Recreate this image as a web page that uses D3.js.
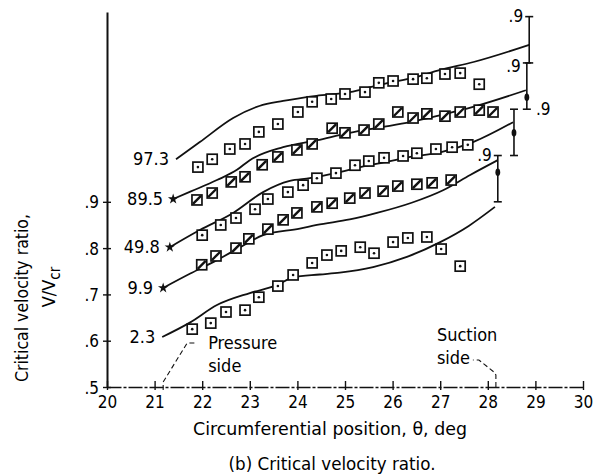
<!DOCTYPE html>
<html>
<head>
<meta charset="utf-8">
<script src="https://cdn.jsdelivr.net/npm/d3@7"></script>
<style>
	body { margin: 0; background: #fff; }
	svg { display: block; font-family: 'DejaVu Sans Condensed', 'Liberation Sans Narrow', sans-serif; }
	text { fill: #000; }
</style>
</head>
<body>
<svg id="chart"></svg>
<script>
// tick labels
const xTicks = [20, 21, 22, 23, 24, 25, 26, 27, 28, 29, 30];
const yTicks = [0.5, 0.6, 0.7, 0.8, 0.9];

// spanwise stations, each curve shifted up by its offset
const seriesLabels = ['2.3', '9.9', '49.8', '89.5', '97.3'];
const seriesOffsets = [0, 0.1, 0.2, 0.3, 0.4];
const markerTypes = ['dot', 'slash', 'dot', 'slash', 'dot'];
const startMarked = [false, true, true, true, false];

// [theta, V/Vcr] - faired curves
const curve23 = [[21.16, 0.608], [21.74, 0.639], [22.31, 0.677], [23.0, 0.703], [23.57, 0.72], [23.91, 0.737], [24.47, 0.743], [24.89, 0.747], [25.59, 0.759], [26.3, 0.781], [27.0, 0.813], [27.6, 0.848], [28.15, 0.889]];
const curve99 = [[21.18, 0.614], [21.75, 0.645], [22.31, 0.674], [22.8, 0.702], [23.28, 0.728], [24.05, 0.742], [24.41, 0.75], [25.1, 0.762], [25.67, 0.776], [26.4, 0.798], [27.06, 0.825], [27.63, 0.858], [28.21, 0.89]];
const curve498 = [[21.32, 0.602], [21.95, 0.639], [22.65, 0.676], [23.28, 0.721], [23.84, 0.745], [24.26, 0.751], [24.8, 0.762], [25.32, 0.775], [25.9, 0.787], [26.37, 0.797], [27.0, 0.807], [27.69, 0.829], [28.53, 0.872]];
const curve895 = [[21.39, 0.606], [21.75, 0.622], [22.31, 0.647], [22.73, 0.669], [23.0, 0.69], [23.7, 0.718], [24.41, 0.733], [25.1, 0.749], [25.7, 0.76], [26.37, 0.772], [27.0, 0.787], [27.69, 0.805], [28.8, 0.841]];
const curve973 = [[21.45, 0.592], [21.95, 0.629], [22.65, 0.681], [23.2, 0.707], [23.7, 0.718], [24.4, 0.729], [25.1, 0.737], [25.7, 0.752], [26.4, 0.767], [27.0, 0.785], [27.7, 0.802], [28.87, 0.839]];

// [theta, V/Vcr] - measured points
const points23 = [[21.79, 0.625], [22.18, 0.638], [22.5, 0.662], [22.9, 0.666], [23.19, 0.694], [23.59, 0.718], [23.91, 0.742], [24.31, 0.768], [24.62, 0.785], [24.92, 0.794], [25.32, 0.802], [25.61, 0.789], [26.01, 0.813], [26.32, 0.822], [26.72, 0.824], [27.02, 0.798], [27.42, 0.761]];
const points99 = [[21.99, 0.664], [22.29, 0.683], [22.71, 0.7], [22.98, 0.72], [23.38, 0.741], [23.7, 0.761], [23.99, 0.776], [24.41, 0.789], [24.73, 0.797], [25.1, 0.808], [25.42, 0.819], [25.8, 0.823], [26.11, 0.834], [26.51, 0.838], [26.83, 0.841], [27.23, 0.847]];
const points498 = [[22.0, 0.628], [22.39, 0.65], [22.71, 0.665], [23.11, 0.684], [23.38, 0.706], [23.8, 0.721], [24.12, 0.736], [24.41, 0.751], [24.81, 0.762], [25.21, 0.779], [25.5, 0.788], [25.82, 0.795], [26.22, 0.799], [26.51, 0.805], [26.91, 0.814], [27.25, 0.818], [27.58, 0.823]];
const points895 = [[21.89, 0.604], [22.21, 0.619], [22.61, 0.643], [22.9, 0.654], [23.26, 0.68], [23.59, 0.697], [23.99, 0.712], [24.31, 0.725], [24.73, 0.759], [25.0, 0.749], [25.4, 0.755], [25.71, 0.768], [26.11, 0.794], [26.43, 0.781], [26.72, 0.79], [27.1, 0.785], [27.42, 0.794], [27.82, 0.798], [28.11, 0.794]];
const points973 = [[21.91, 0.575], [22.21, 0.592], [22.58, 0.614], [22.9, 0.625], [23.19, 0.651], [23.59, 0.668], [24.01, 0.694], [24.31, 0.716], [24.71, 0.722], [25.0, 0.733], [25.42, 0.737], [25.71, 0.757], [26.01, 0.761], [26.43, 0.765], [26.72, 0.767], [27.1, 0.776], [27.42, 0.778], [27.82, 0.754]];

// local .8 - .9 scale bars at the right end of the shifted curves
const barSeries = [1, 2, 3, 4];
const barTheta = [28.21, 28.55, 28.82, 28.87];
const barRange = [0.8, 0.9];
const barDot = [0.864, 0.849, 0.826, null];

// blade surfaces
const sideTheta = [21.18, 28.17];
const sideLabels = [['Pressure', 'side'], ['Suction', 'side']];

const curves = [curve23, curve99, curve498, curve895, curve973];
const points = [points23, points99, points498, points895, points973];

const width = 599;
const height = 476;

const svg = d3.select('#chart').attr('width', width).attr('height', height);

const x = d3.scaleLinear().domain([20, 30]).range([107, 583]);
const y = d3.scaleLinear().domain([0.5, 1.31]).range([387, 12]);

// axes
const xAxis = d3.axisBottom(x).tickValues(xTicks).tickSizeOuter(0).tickFormat(d3.format('d'));
const xAxisG = svg.append('g')
	.attr('transform', `translate(0,${y(0.5)})`)
	.call(xAxis);
xAxisG.select('.domain')
	.attr('stroke', '#111')
	.attr('stroke-width', 1.4)
	.attr('stroke-dasharray', '14,2,3,2');
xAxisG.selectAll('.tick line').attr('y1', -6).attr('y2', 3).attr('stroke', '#111').attr('stroke-width', 1.4);
xAxisG.selectAll('.tick text')
	.attr('y', 9)
	.attr('fill', '#000')
	.style('font-size', '17px')
	.style('font-family', 'DejaVu Sans Condensed, sans-serif');

const yAxis = d3.axisLeft(y).tickValues(yTicks).tickSizeOuter(0).tickFormat((d) => '.' + Math.round(d * 10));
const yAxisG = svg.append('g')
	.attr('transform', `translate(${x(20)},0)`)
	.call(yAxis);
yAxisG.select('.domain').attr('stroke', '#111').attr('stroke-width', 2);
yAxisG.selectAll('.tick line').attr('x1', -4).attr('x2', 4).attr('stroke', '#111').attr('stroke-width', 1.4);
yAxisG.selectAll('.tick text')
	.attr('x', -8)
	.attr('dy', '0.36em')
	.attr('fill', '#000')
	.style('font-size', '17px')
	.style('font-family', 'DejaVu Sans Condensed, sans-serif');

// axis titles
svg.append('text')
	.attr('x', 330)
	.attr('y', 435)
	.attr('text-anchor', 'middle')
	.attr('textLength', 274)
	.attr('lengthAdjust', 'spacingAndGlyphs')
	.style('font-size', '18px')
	.text('Circumferential position, θ, deg');

svg.append('text')
	.attr('x', 332)
	.attr('y', 470)
	.attr('text-anchor', 'middle')
	.attr('textLength', 207)
	.attr('lengthAdjust', 'spacingAndGlyphs')
	.style('font-size', '17px')
	.text('(b) Critical velocity ratio.');

svg.append('text')
	.attr('transform', 'rotate(-90)')
	.attr('x', -298)
	.attr('y', 28)
	.attr('text-anchor', 'middle')
	.attr('textLength', 168)
	.attr('lengthAdjust', 'spacingAndGlyphs')
	.style('font-size', '18px')
	.text('Critical velocity ratio,');

const vTitle = svg.append('text')
	.attr('transform', 'rotate(-90)')
	.attr('x', -287)
	.attr('y', 55)
	.attr('text-anchor', 'middle')
	.style('font-size', '18px');
vTitle.append('tspan').text('V/V');
vTitle.append('tspan').attr('dy', 5).style('font-size', '15px').text('cr');

// curves
const line = d3.line()
	.x((d) => x(d[0]))
	.y((d) => y(d[1]))
	.curve(d3.curveMonotoneX);

const seriesG = svg.selectAll('.series')
	.data(seriesLabels)
	.join('g')
	.attr('class', 'series');

seriesG.append('path')
	.attr('fill', 'none')
	.attr('stroke', '#111')
	.attr('stroke-width', 1.8)
	.attr('d', (d, i) => line(curves[i].map((p) => [p[0], p[1] + seriesOffsets[i]])));

// curve labels on the left
seriesG.append('text')
	.attr('x', (d, i) => x(curves[i][0][0]) - (startMarked[i] ? 10 : 7))
	.attr('y', (d, i) => y(curves[i][0][1] + seriesOffsets[i]) + 6)
	.attr('text-anchor', 'end')
	.style('font-size', '18px')
	.text((d) => d);

// start markers
seriesG.filter((d, i) => startMarked[i])
	.append('path')
	.attr('transform', (d) => {
		const i = seriesLabels.indexOf(d);
		return `translate(${x(curves[i][0][0])},${y(curves[i][0][1] + seriesOffsets[i])})`;
	})
	.attr('d', d3.symbol(d3.symbolStar, 34))
	.attr('fill', '#111');

// data markers
const half = 5;
seriesG.each(function (d, i) {
	const g = d3.select(this);
	const m = g.selectAll('.mark')
		.data(points[i])
		.join('g')
		.attr('class', 'mark')
		.attr('transform', (p) => `translate(${x(p[0])},${y(p[1] + seriesOffsets[i])})`);

	m.append('rect')
		.attr('x', -half)
		.attr('y', -half)
		.attr('width', half * 2)
		.attr('height', half * 2)
		.attr('fill', '#fff')
		.attr('stroke', '#111')
		.attr('stroke-width', 1.7);

	if (markerTypes[i] === 'dot') {
		m.append('circle').attr('r', 1.3).attr('fill', '#111');
	} else {
		m.append('line')
			.attr('x1', -half + 1)
			.attr('y1', half - 1)
			.attr('x2', half - 1)
			.attr('y2', -half + 1)
			.attr('stroke', '#111')
			.attr('stroke-width', 2.4);
	}
});

// scale bars with their .9 labels
const bars = svg.selectAll('.bar')
	.data(barSeries)
	.join('g')
	.attr('class', 'bar');

bars.append('line')
	.attr('x1', (d, j) => x(barTheta[j]))
	.attr('x2', (d, j) => x(barTheta[j]))
	.attr('y1', (d) => y(barRange[0] + seriesOffsets[d]))
	.attr('y2', (d) => y(barRange[1] + seriesOffsets[d]))
	.attr('stroke', '#111')
	.attr('stroke-width', 1.6);

barRange.forEach((r) => {
	bars.append('line')
		.attr('x1', (d, j) => x(barTheta[j]) - 4)
		.attr('x2', (d, j) => x(barTheta[j]) + 4)
		.attr('y1', (d) => y(r + seriesOffsets[d]))
		.attr('y2', (d) => y(r + seriesOffsets[d]))
		.attr('stroke', '#111')
		.attr('stroke-width', 1.6);
});

bars.filter((d, j) => barDot[j] !== null)
	.append('ellipse')
	.attr('cx', (d) => x(barTheta[barSeries.indexOf(d)]))
	.attr('cy', (d) => y(barDot[barSeries.indexOf(d)] + seriesOffsets[d]))
	.attr('rx', 2.4)
	.attr('ry', 3.8)
	.attr('fill', '#111');

bars.append('text')
	.attr('x', (d, j) => x(barTheta[j]) + (d === 2 ? 22 : -6))
	.attr('y', (d) => y(barRange[1] + seriesOffsets[d]) + (d === 2 ? 6 : d === 3 ? 9 : 5))
	.attr('text-anchor', (d) => (d === 2 ? 'start' : 'end'))
	.style('font-size', '17px')
	.text('.9');

// pressure / suction side callouts
const sideG = svg.selectAll('.side')
	.data(sideTheta)
	.join('g')
	.attr('class', 'side');

sideG.append('path')
	.attr('fill', 'none')
	.attr('stroke', '#111')
	.attr('stroke-width', 1.1)
	.attr('stroke-dasharray', '5,3')
	.attr('d', (d, i) => {
		const px = x(d);
		const py = y(0.5);
		if (i === 0) {
			return `M${px},${py + 3}L${px},${py - 5}L${px + 24},${py - 44}L${px + 32},${py - 44}`;
		}
		return `M${px},${py}L${px},${py - 12}L${px - 2},${py - 15}L${px - 17},${py - 27}L${px - 23},${py - 27}`;
	});

sideG.each(function (d, i) {
	const g = d3.select(this);
	const tx = i === 0 ? x(d) + 45 : x(d) - 59;
	const ty = i === 0 ? 349 : 341;
	sideLabels[i].forEach((t, k) => {
		g.append('text')
			.attr('x', tx)
			.attr('y', ty + k * 23)
			.style('font-size', '18px')
			.text(t);
	});
});
</script>
</body>
</html>
